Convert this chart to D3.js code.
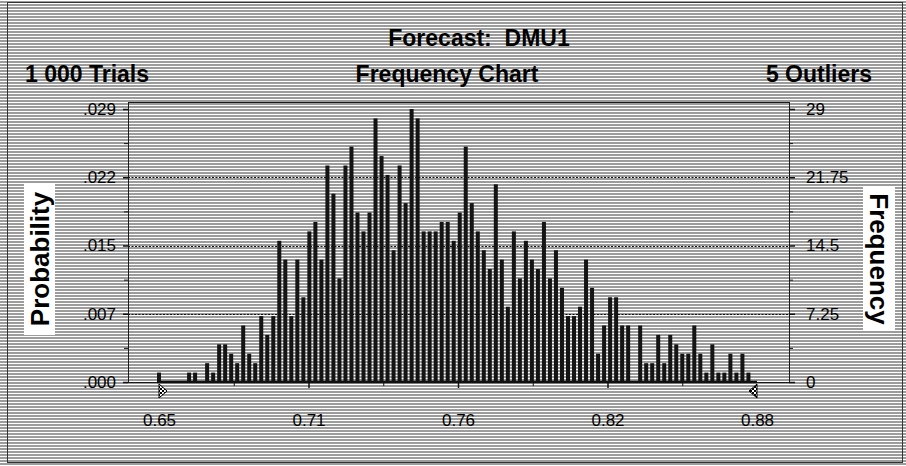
<!DOCTYPE html>
<html><head><meta charset="utf-8">
<script src="https://cdn.jsdelivr.net/npm/d3@7"></script>
<style>
body{margin:0;background:#fff}
svg{display:block}
text{font-family:"Liberation Sans",Arial,sans-serif;fill:#000}
</style>
</head><body><svg id="c" width="906" height="466"></svg>
<script>
// ---- data ----
const counts = [1,0,0,0,0,1,1,0,2,1, 4,4,3,2,6,3,2,7,5,7,
  15,13,7,13,9,16,17,13,23,20, 11,23,25,18,16,18,28,24,22,14,
  23,19,29,28,16,16,16,17,17,15, 18,25,19,16,14,12,21,13,8,16,
  11,15,13,12,17,11,14,10,7,7, 8,13,10,3,6,9,9,6,6,0,
  6,2,2,5,2,5,4,3,3,6, 3,1,4,1,1,3,1,3,1,0];
const binStart = 0.65, binWidth = 0.0023133;
const trials = 1000;
const xDomain = [0.65, 0.88];
const xTickValues = [0.65, 0.7075, 0.765, 0.8225, 0.88];
const xTickLabels = ["0.65","0.71","0.76","0.82","0.88"];
const freqTicks = [0, 7.25, 14.5, 21.75, 29];
const freqLabels = ["0","7.25","14.5","21.75","29"];
const probLabels = [".000",".007",".015",".022",".029"];
const titleText = "Forecast:  DMU1";
const leftText = "1 000 Trials", centerText = "Frequency Chart", rightText = "5 Outliers";
const yLeftTitle = "Probability", yRightTitle = "Frequency";

// ---- layout ----
const W = 906, H = 466;
const L = 128, R = 789, T = 102, B = 382;
const svg = d3.select("#c");
const defs = svg.append("defs");
const stripe = defs.append("pattern").attr("id","stripes").attr("patternUnits","userSpaceOnUse")
  .attr("width",6).attr("height",3);
stripe.append("rect").attr("width",6).attr("height",3).attr("fill","#9c9c9c");
stripe.append("rect").attr("y",0).attr("width",6).attr("height",1).attr("fill","#ffffff");
const chk = defs.append("pattern").attr("id","chk").attr("patternUnits","userSpaceOnUse")
  .attr("width",4).attr("height",4);
chk.append("rect").attr("width",4).attr("height",4).attr("fill","#fff");
chk.append("rect").attr("width",2).attr("height",2).attr("fill","#000");
chk.append("rect").attr("x",2).attr("y",2).attr("width",2).attr("height",2).attr("fill","#000");

svg.append("rect").attr("width",W).attr("height",H).attr("fill","url(#stripes)");
svg.append("rect").attr("x",7.5).attr("y",2.5).attr("width",895).attr("height",460)
  .attr("fill","none").attr("stroke","#333").attr("stroke-width",1);

const x = d3.scaleLinear().domain(xDomain).range([159, 757]);
const yF = d3.scaleLinear().domain([0, 29]).range([B, 109]);
const yP = d3.scaleLinear().domain([0, 29/trials]).range([B, 109]);

// gridlines
svg.append("g").selectAll("line").data(freqTicks.slice(1,4)).join("line")
  .attr("x1",L).attr("x2",R).attr("y1",d=>Math.round(yF(d))+0.5).attr("y2",d=>Math.round(yF(d))+0.5)
  .attr("stroke","#111").attr("stroke-width",1.2).attr("stroke-dasharray","2,1.5");

// bars
svg.append("g").selectAll("rect").data(counts).join("rect")
  .attr("x",(d,i)=>x(binStart + i*binWidth)-2)
  .attr("width",4)
  .attr("y",d=>yF(d))
  .attr("height",d=>B-yF(d))
  .attr("fill","#141414");

// frame
svg.append("rect").attr("x",L+0.5).attr("y",T+0.5).attr("width",R-L).attr("height",B-T)
  .attr("fill","none").attr("stroke","#1a1a1a").attr("stroke-width",1);
svg.append("line").attr("x1",x(xDomain[0])-2).attr("x2",x(xDomain[1])).attr("y1",B).attr("y2",B)
  .attr("stroke","#111").attr("stroke-width",2.5);

// left axis
const minorF = freqTicks.slice(0,4).map((d,i)=>(d+freqTicks[i+1])/2);
const gl = svg.append("g").attr("transform",`translate(${L},0)`)
  .call(d3.axisLeft(yP).tickValues(freqTicks.map(d=>d/trials)).tickSize(5).tickPadding(7)
    .tickFormat((d,i)=>probLabels[i]));
gl.select(".domain").remove();
gl.selectAll("line").attr("stroke","#111").attr("stroke-width",1.5);
gl.selectAll("text").attr("font-size",17).attr("font-family","Liberation Sans, Arial, sans-serif");
const glm = svg.append("g").attr("transform",`translate(${L},0)`)
  .call(d3.axisLeft(yF).tickValues(minorF).tickSize(4).tickFormat(""));
glm.select(".domain").remove();
glm.selectAll("line").attr("stroke","#111").attr("stroke-width",1);

// right axis
const gr = svg.append("g").attr("transform",`translate(${R},0)`)
  .call(d3.axisRight(yF).tickValues(freqTicks).tickSize(6).tickPadding(11)
    .tickFormat((d,i)=>freqLabels[i]));
gr.select(".domain").remove();
gr.selectAll("line").attr("stroke","#111").attr("stroke-width",1.5);
gr.selectAll("text").attr("font-size",17).attr("font-family","Liberation Sans, Arial, sans-serif");
const grm = svg.append("g").attr("transform",`translate(${R},0)`)
  .call(d3.axisRight(yF).tickValues(minorF).tickSize(4).tickFormat(""));
grm.select(".domain").remove();
grm.selectAll("line").attr("stroke","#111").attr("stroke-width",1);

// bottom axis
const gb = svg.append("g").attr("transform",`translate(0,${B})`)
  .call(d3.axisBottom(x).tickValues(xTickValues).tickSize(0).tickPadding(32)
    .tickFormat((d,i)=>xTickLabels[i]));
gb.select(".domain").remove();
gb.selectAll("text").attr("font-size",17).attr("font-family","Liberation Sans, Arial, sans-serif");
const majB = xTickValues.slice(1,4);
const minB = xTickValues.slice(0,4).map((d,i)=>(d+xTickValues[i+1])/2);
const gbm = svg.append("g").attr("transform",`translate(0,${B})`)
  .call(d3.axisBottom(x).tickValues(majB).tickSize(6).tickFormat(""));
gbm.select(".domain").remove();
gbm.selectAll("line").attr("stroke","#111").attr("stroke-width",1.5);
const gbn = svg.append("g").attr("transform",`translate(0,${B})`)
  .call(d3.axisBottom(x).tickValues(minB).tickSize(4).tickFormat(""));
gbn.select(".domain").remove();
gbn.selectAll("line").attr("stroke","#111").attr("stroke-width",1);

// range markers (triangles)
const x0 = x(xDomain[0]), x1 = x(xDomain[1]);
svg.append("path").attr("d",`M${x0},${B+2}L${x0},${B+16}L${x0+8},${B+9}Z`)
  .attr("fill","url(#chk)").attr("stroke","#000").attr("stroke-width",1);
svg.append("path").attr("d",`M${x1},${B+2}L${x1},${B+16}L${x1-8},${B+9}Z`)
  .attr("fill","url(#chk)").attr("stroke","#000").attr("stroke-width",1);

// titles
const tfont = {"font-size":23,"font-weight":"bold"};
function addText(t, xx, yy, anchor){
  const el = svg.append("text").attr("x",xx).attr("y",yy).attr("text-anchor",anchor)
    .attr("xml:space","preserve").style("white-space","pre").text(t);
  Object.entries(tfont).forEach(([k,v])=>el.attr(k,v));
  return el;
}
addText(titleText, 479, 46, "middle");
addText(leftText, 25, 82, "start");
addText(centerText, 447, 82, "middle");
addText(rightText, 872, 82, "end");

// vertical axis titles
svg.append("rect").attr("x",24).attr("y",183).attr("width",31).attr("height",152).attr("fill","#fff");
svg.append("text").attr("transform","translate(40,259) rotate(-90)").attr("text-anchor","middle")
  .attr("dominant-baseline","central").attr("font-size",26).attr("font-weight","bold").text(yLeftTitle);
svg.append("rect").attr("x",863).attr("y",187).attr("width",32).attr("height",144).attr("fill","#fff");
svg.append("text").attr("transform","translate(879,259) rotate(90)").attr("text-anchor","middle")
  .attr("dominant-baseline","central").attr("font-size",26).attr("font-weight","bold").text(yRightTitle);
</script>
</body></html>
